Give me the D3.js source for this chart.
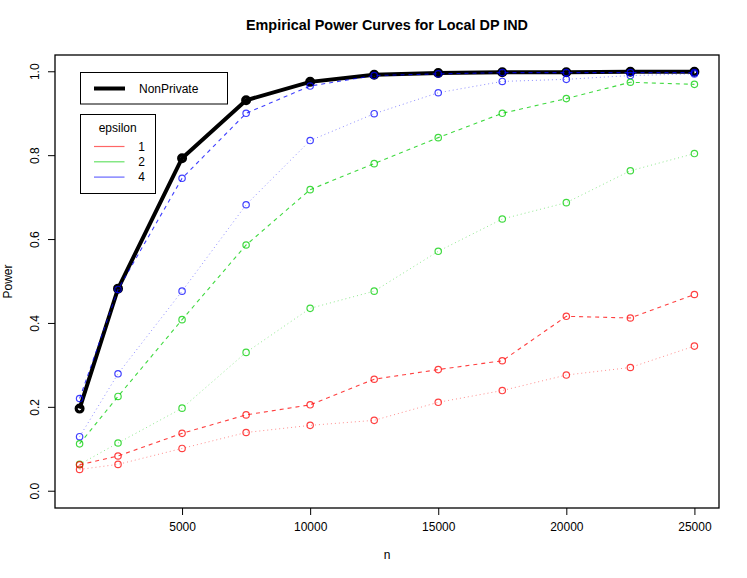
<!DOCTYPE html>
<html><head><meta charset="utf-8">
<script src="https://cdn.jsdelivr.net/npm/d3@7"></script>
<style>body{margin:0;background:#fff}svg{display:block}text{font-family:"Liberation Sans",Arial,sans-serif}</style>
</head><body><svg id="c" width="747" height="578"></svg>
<script>
const nValues = [1000,2500,5000,7500,10000,12500,15000,17500,20000,22500,25000];
const nonPrivate = [0.197,0.483,0.794,0.932,0.976,0.993,0.997,0.999,0.999,1.0,1.0];
const eps1Dashed = [0.063,0.084,0.138,0.182,0.206,0.267,0.290,0.311,0.417,0.413,0.469];
const eps1Dotted = [0.052,0.064,0.102,0.140,0.157,0.169,0.212,0.240,0.277,0.295,0.346];
const eps2Dashed = [0.113,0.226,0.409,0.587,0.719,0.781,0.843,0.901,0.936,0.975,0.970];
const eps2Dotted = [0.064,0.115,0.198,0.331,0.436,0.477,0.572,0.649,0.688,0.764,0.805];
const eps4Dashed = [0.221,0.481,0.746,0.901,0.966,0.991,0.995,0.998,0.998,0.998,0.998];
const eps4Dotted = [0.130,0.280,0.477,0.683,0.836,0.900,0.950,0.977,0.982,0.991,0.995];
const xTicks = [5000,10000,15000,20000,25000];
const yTicks = [0.0,0.2,0.4,0.6,0.8,1.0];
const epsLabels = ["1","2","4"];
const epsColors = ["#ff0000","#00cd00","#0000ff"];

const svg = d3.select("#c");
const L=55, R=719, T=55, B=508;
const x = d3.scaleLinear().domain([40,25960]).range([L,R]);
const y = d3.scaleLinear().domain([-0.04,1.04]).range([B,T]);

// title
svg.append("text").attr("x",(L+R)/2).attr("y",30).attr("text-anchor","middle")
  .attr("font-weight","bold").attr("font-size",14.4).text("Empirical Power Curves for Local DP IND");

// axes
const xAxis = svg.append("g").attr("transform",`translate(0,${B})`)
  .call(d3.axisBottom(x).tickValues(xTicks).tickSize(7).tickPadding(7).tickFormat(d3.format("d")));
xAxis.select(".domain").remove();
xAxis.selectAll("text").attr("font-size",12).attr("font-family","Liberation Sans, Arial, sans-serif");
const yAxis = svg.append("g").attr("transform",`translate(${L},0)`)
  .call(d3.axisLeft(y).tickValues(yTicks).tickSize(7).tickFormat(d3.format(".1f")));
yAxis.select(".domain").remove();
yAxis.selectAll("text").attr("font-size",12).attr("font-family","Liberation Sans, Arial, sans-serif")
  .attr("text-anchor","middle").attr("x",0).attr("dy",0)
  .attr("transform",d=>`translate(-16,${y(d)}) rotate(-90)`).attr("y",0);
yAxis.selectAll(".tick").attr("transform","translate(0,0)");
yAxis.selectAll(".tick line").attr("y1",d=>y(d)).attr("y2",d=>y(d));

svg.append("text").attr("x",(L+R)/2).attr("y",559).attr("text-anchor","middle").attr("font-size",12).text("n");
svg.append("text").attr("transform",`translate(12,${(T+B)/2}) rotate(-90)`).attr("text-anchor","middle").attr("font-size",12).text("Power");

const plot = svg.append("g");
const line = d3.line().x((d,i)=>x(nValues[i])).y(d=>y(d));

function drawSeries(vals,color,dash,lw,op,r,pw){
  plot.append("path").datum(vals).attr("d",line).attr("fill","none")
    .attr("stroke",color).attr("stroke-width",lw).attr("stroke-dasharray",dash).attr("stroke-opacity",op);
  plot.selectAll(null).data(vals).enter().append("circle")
    .attr("cx",(d,i)=>x(nValues[i])).attr("cy",d=>y(d)).attr("r",r)
    .attr("fill","none").attr("stroke",color).attr("stroke-width",pw).attr("stroke-opacity",Math.max(op,0.75));
}
// NonPrivate
drawSeries(nonPrivate,"#000",null,4,1,3.4,3.2);
const dashed=[eps1Dashed,eps2Dashed,eps4Dashed];
const dotted=[eps1Dotted,eps2Dotted,eps4Dotted];
dotted.forEach((v,k)=>drawSeries(v,epsColors[k],"1,3",1,0.45,3.2,1.2));
dashed.forEach((v,k)=>drawSeries(v,epsColors[k],"4,4",1.1,0.75,3.2,1.2));

// frame
svg.append("rect").attr("x",L).attr("y",T).attr("width",R-L).attr("height",B-T)
  .attr("fill","none").attr("stroke","#000").attr("stroke-width",1.3);

// legend 1
const lg1 = svg.append("g");
lg1.append("rect").attr("x",80.5).attr("y",72.5).attr("width",147).attr("height",31.5).attr("fill","#fff").attr("stroke","#000").attr("stroke-width",1);
lg1.append("line").attr("x1",94).attr("x2",125).attr("y1",88.5).attr("y2",88.5).attr("stroke","#000").attr("stroke-width",4);
lg1.append("text").attr("x",139).attr("y",92.8).attr("font-size",12).text("NonPrivate");

// legend 2
const lg2 = svg.append("g");
lg2.append("rect").attr("x",80.5).attr("y",114.5).attr("width",75).attr("height",79).attr("fill","#fff").attr("stroke","#000").attr("stroke-width",1);
lg2.append("text").attr("x",117.7).attr("y",131.5).attr("text-anchor","middle").attr("font-size",12).text("epsilon");
epsLabels.forEach((lab,k)=>{
  const yy = 146.5 + k*15.3;
  lg2.append("line").attr("x1",94).attr("x2",124.5).attr("y1",yy).attr("y2",yy).attr("stroke",epsColors[k]).attr("stroke-opacity",0.6).attr("stroke-width",1.2);
  lg2.append("text").attr("x",141.5).attr("y",yy+4.3).attr("text-anchor","middle").attr("font-size",12).text(lab);
});
</script></body></html>
